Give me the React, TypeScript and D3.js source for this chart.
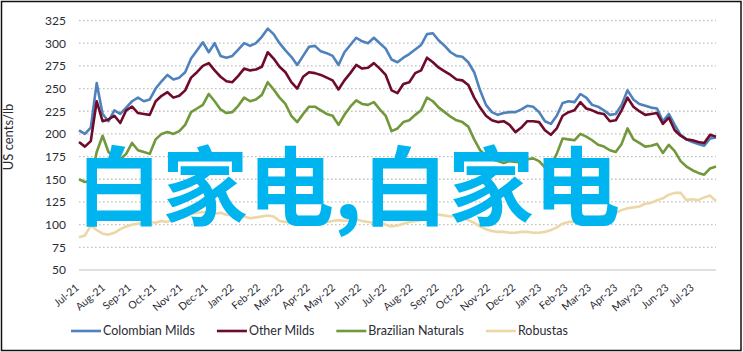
import React, { useEffect, useRef } from "react";
import * as d3 from "d3";

// weekly prices, first observation on this date
const startDate = new Date(2021, 6, 3);

const colombianMilds = [
  204, 200, 207, 256, 222, 214, 226, 222, 229, 236,
  240, 236, 238, 250, 258, 265, 260, 262, 268, 283,
  292, 301, 290, 300, 286, 284, 286, 293, 300, 297,
  300, 307, 316, 310, 300, 292, 285, 276, 286, 296,
  297, 291, 289, 286, 276, 290, 298, 306, 302, 300,
  306, 300, 294, 282, 279, 284, 288, 293, 298, 310,
  311, 303, 297, 290, 286, 285, 279, 268, 248, 232,
  224, 221, 223, 224, 224, 227, 231, 230, 224, 214,
  211, 220, 234, 236, 235, 244, 240, 232, 230, 226,
  221, 222, 232, 248, 238, 233, 231, 229, 228, 214,
  222, 210, 199, 194, 191, 189, 187, 195, 196,
];

const otherMilds = [
  191, 186, 192, 236, 214, 216, 220, 212, 226, 230,
  223, 222, 221, 236, 242, 246, 240, 242, 248, 262,
  268, 275, 278, 270, 263, 258, 257, 264, 272, 270,
  271, 274, 290, 283, 274, 268, 257, 250, 263, 268,
  267, 265, 262, 259, 249, 259, 267, 276, 272, 273,
  278, 272, 265, 248, 245, 255, 257, 267, 270, 284,
  279, 273, 269, 265, 260, 259, 254, 240, 229, 220,
  215, 213, 214, 210, 202, 207, 214, 214, 213, 204,
  199, 206, 220, 224, 226, 235, 228, 226, 223, 222,
  214, 215, 226, 240, 230, 225, 221, 222, 223, 211,
  218, 204, 198, 194, 193, 191, 190, 199, 197,
];

const brazilianNaturals = [
  150, 147, 148, 180, 198, 180, 174, 172, 178, 190,
  182, 180, 178, 194, 200, 202, 200, 203, 210, 224,
  228, 232, 244, 236, 227, 223, 224, 231, 240, 236,
  238, 243, 257, 249, 240, 233, 220, 213, 222, 230,
  230, 226, 222, 220, 210, 221, 230, 237, 233, 232,
  235, 227, 220, 203, 206, 213, 215, 221, 226, 240,
  236, 229, 224, 219, 215, 213, 208, 194, 182, 176,
  172, 170, 168, 170, 169, 169, 172, 173, 170, 163,
  166, 178, 195, 194, 193, 200, 197, 193, 188, 186,
  182, 180, 189, 206, 194, 190, 186, 187, 189, 179,
  188, 181, 170, 164, 160, 157, 155, 162, 164,
];

const robustas = [
  86, 88, 99, 94, 90, 89, 91, 95, 98, 100,
  101, 103, 103, 102, 104, 103, 106, 107, 109, 112,
  113, 114, 113, 112, 113, 111, 110, 108, 109, 107,
  108, 109, 110, 109, 104, 103, 102, 101, 102, 102,
  105, 104, 103, 104, 105, 104, 105, 106, 104, 103,
  102, 103, 100, 98, 99, 101, 103, 104, 105, 108,
  112, 111, 110, 109, 110, 108, 105, 102, 98, 95,
  93, 92, 92, 91, 91, 92, 92, 91, 91, 92,
  94, 97, 101, 103, 103, 104, 105, 106, 108, 110,
  110, 113, 116, 118, 119, 120, 123, 124, 127, 129,
  133, 135, 135, 127, 128, 127, 130, 132, 126,
];

const seriesNames = ["Colombian Milds", "Other Milds", "Brazilian Naturals", "Robustas"];
const tickLabels = [
  "Jul-21", "Aug-21", "Sep-21", "Oct-21", "Nov-21", "Dec-21", "Jan-22", "Feb-22", "Mar-22",
  "Apr-22", "May-22", "Jun-22", "Jul-22", "Aug-22", "Sep-22", "Oct-22", "Nov-22", "Dec-22",
  "Jan-23", "Feb-23", "Mar-23", "Apr-23", "May-23", "Jun-23", "Jul-23",
];
const yTicks = [50, 75, 100, 125, 150, 175, 200, 225, 250, 275, 300, 325];

const colors = ["#4f81bd", "#6e0b2b", "#71983b", "#ecd7a6"];
const font = "Lato, 'Open Sans', sans-serif";
const textColor = "#2b2b35";

export default function App() {
  const svgRef = useRef<SVGSVGElement>(null);

  useEffect(() => {
    document.body.style.margin = "0";
    const svg = d3.select(svgRef.current);
    svg.selectAll("*").remove();

    const series = [colombianMilds, otherMilds, brazilianNaturals, robustas];
    const dates = colombianMilds.map((_, i) => d3.timeDay.offset(startDate, i * 7));
    const parseMonth = d3.timeParse("%b-%y");
    const tickDates = tickLabels.map((l) => parseMonth(l) as Date);

    const left = 79, right = 716, top = 20.5, bottom = 270;
    const x = d3.scaleTime().domain([dates[0], dates[dates.length - 1]]).range([left, right]);
    const y = d3.scaleLinear().domain([50, 325]).range([bottom, top]);

    // frame
    svg.append("rect")
      .attr("x", 1.5).attr("y", 1.5)
      .attr("width", 739.5).attr("height", 349)
      .attr("fill", "white").attr("stroke", "#111").attr("stroke-width", 1.5);

    // grid
    svg.append("g")
      .selectAll("line")
      .data(yTicks.slice(1))
      .join("line")
      .attr("x1", left).attr("x2", right)
      .attr("y1", (d) => y(d)).attr("y2", (d) => y(d))
      .attr("stroke", "#c4c4c4").attr("stroke-width", 1.3)
      .attr("stroke-dasharray", "1.6,2.4");

    svg.append("line")
      .attr("x1", left).attr("x2", right)
      .attr("y1", y(50)).attr("y2", y(50))
      .attr("stroke", "#d6d6d6").attr("stroke-width", 1.5);

    // y axis
    const yAxis = d3.axisLeft(y).tickValues(yTicks).tickSize(0).tickPadding(0);
    const gy = svg.append("g").attr("transform", `translate(66,0)`).call(yAxis);
    gy.select(".domain").remove();
    gy.selectAll("text")
      .attr("fill", textColor)
      .style("font-family", font)
      .style("font-size", "12px");

    svg.append("text")
      .attr("transform", `translate(13,137) rotate(-90)`)
      .attr("text-anchor", "middle")
      .attr("fill", textColor)
      .style("font-family", font)
      .style("font-size", "13px")
      .text("US cents/lb");

    // x labels
    svg.append("g")
      .selectAll("text")
      .data(tickLabels)
      .join("text")
      .attr("transform", (_, i) => `translate(${x(tickDates[i])},286) rotate(-40)`)
      .attr("text-anchor", "end")
      .attr("dy", "0.35em")
      .attr("fill", textColor)
      .style("font-family", font)
      .style("font-size", "10.5px")
      .text((d) => d);

    // lines
    const line = d3.line<number>()
      .x((_, i) => x(dates[i]))
      .y((d) => y(d));

    svg.append("g")
      .selectAll("path")
      .data(series)
      .join("path")
      .attr("d", (d) => line(d))
      .attr("fill", "none")
      .attr("stroke", (_, i) => colors[i])
      .attr("stroke-width", 2.6)
      .attr("stroke-linejoin", "round");

    // legend
    const legend = svg.append("g").attr("transform", "translate(71,331)");
    let lx = 0;
    seriesNames.forEach((name, i) => {
      legend.append("line")
        .attr("x1", lx).attr("x2", lx + 30)
        .attr("stroke", colors[i]).attr("stroke-width", 2.6);
      const t = legend.append("text")
        .attr("x", lx + 32)
        .attr("dy", "0.35em")
        .attr("fill", textColor)
        .style("font-family", font)
        .style("font-size", "12.5px")
        .text(name);
      const w = (t.node() as SVGTextElement).getComputedTextLength();
      lx += 32 + w + 22;
    });

    // overlay text
    svg.append("text")
      .attr("x", 76)
      .attr("y", 219)
      .attr("fill", "#00b4ef")
      .style("font-family", "'Noto Sans CJK SC', sans-serif")
      .style("font-weight", 700)
      .style("font-size", "86px")
      .text("白家电,白家电");
  }, []);

  return <svg ref={svgRef} width={743} height={352} style={{ display: "block" }} />;
}
